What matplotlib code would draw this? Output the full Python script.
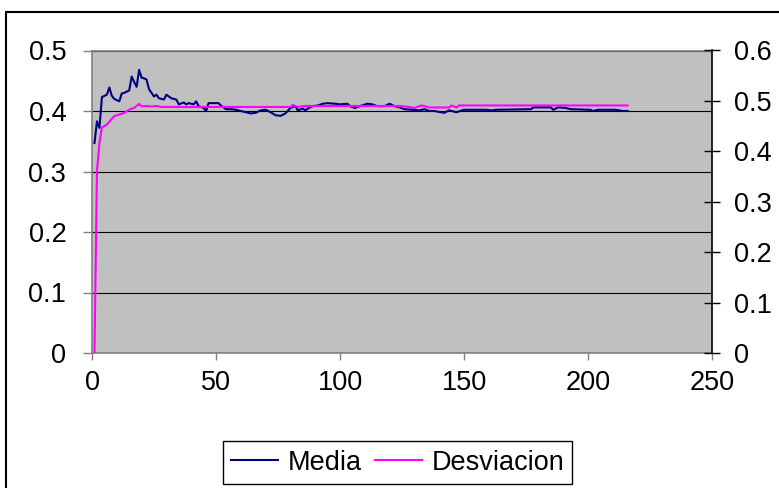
import matplotlib
matplotlib.use('Agg')
import matplotlib.pyplot as plt
import matplotlib.ticker as mticker
from matplotlib.patches import Rectangle
from matplotlib import rcParams

rcParams['font.family'] = 'Liberation Sans'
rcParams['font.size'] = 19.5

media_x = [1, 2, 3, 4, 5, 6, 7, 8, 9, 10, 11, 12, 13, 14, 15, 16, 17, 18, 19, 20,
           21, 22, 23, 24, 25, 26, 27, 29, 30, 32, 34, 35, 37, 38, 39, 41, 42, 43,
           45, 46, 47, 49, 51, 52, 54, 56, 58, 60, 62, 64, 66, 68, 70, 72, 74, 76,
           78, 80, 82, 83, 85, 86, 87, 89, 91, 93, 95, 98, 100, 103, 104, 106, 108,
           111, 113, 115, 118, 120, 122, 124, 126, 129, 132, 134, 136, 138, 142,
           144, 147, 150, 159, 161, 163, 177, 178, 185, 186, 188, 191, 193, 201,
           202, 204, 211, 214, 216]
media_y = [0.347, 0.383, 0.372, 0.423, 0.425, 0.427, 0.439, 0.425, 0.420, 0.418,
           0.416, 0.429, 0.430, 0.432, 0.434, 0.457, 0.448, 0.440, 0.468, 0.455,
           0.454, 0.452, 0.436, 0.430, 0.424, 0.427, 0.421, 0.419, 0.427, 0.421,
           0.419, 0.411, 0.414, 0.411, 0.413, 0.411, 0.416, 0.408, 0.405, 0.400,
           0.413, 0.413, 0.413, 0.409, 0.403, 0.403, 0.402, 0.400, 0.398, 0.396,
           0.397, 0.401, 0.402, 0.398, 0.393, 0.392, 0.396, 0.405, 0.408, 0.401,
           0.404, 0.401, 0.404, 0.408, 0.409, 0.412, 0.413, 0.412, 0.411, 0.412,
           0.408, 0.405, 0.408, 0.412, 0.411, 0.408, 0.408, 0.412, 0.408, 0.406,
           0.403, 0.402, 0.401, 0.403, 0.400, 0.400, 0.397, 0.401, 0.398, 0.402,
           0.402, 0.401, 0.402, 0.403, 0.406, 0.406, 0.402, 0.406, 0.405, 0.403,
           0.402, 0.400, 0.402, 0.402, 0.400, 0.400]

desv_x = [1, 2, 3, 4, 6, 9, 11, 13, 15, 17, 19, 20, 22, 24, 26, 28, 80, 81, 83,
          86, 124, 128, 130, 133, 136, 144, 145, 147, 148, 150, 216]
desv_y = [0.0, 0.36, 0.417, 0.447, 0.453, 0.470, 0.473, 0.476, 0.483, 0.486,
          0.494, 0.489, 0.490, 0.489, 0.490, 0.488, 0.488, 0.492, 0.488, 0.490,
          0.490, 0.488, 0.486, 0.491, 0.487, 0.487, 0.491, 0.487, 0.491, 0.491,
          0.491]

fig = plt.figure(figsize=(7.79, 4.88), dpi=100)
W, H = 779.0, 488.0

# outer chart frame (runs off the right and bottom edges)
fig.patches.append(Rectangle((5.5 / W, -0.1), 1.2, (488 - 12.5) / H + 0.1,
                             transform=fig.transFigure, fill=False,
                             edgecolor='black', linewidth=1.5))

ax = fig.add_axes([92 / W, (H - 353) / H, (712 - 92) / W, (353 - 50.5) / H])
ax.set_facecolor('#C0C0C0')
ax.set_xlim(0, 250)
ax.set_ylim(0, 0.5)
ax.set_xticks([0, 50, 100, 150, 200, 250])
ax.set_yticks([0, 0.1, 0.2, 0.3, 0.4, 0.5])
ax.yaxis.set_major_formatter(mticker.FormatStrFormatter('%g'))
ax.grid(axis='y', color='black', linewidth=0.8)
ax.set_axisbelow(True)
for s in ['left', 'bottom', 'top']:
    ax.spines[s].set_color('#808080')
    ax.spines[s].set_linewidth(1.2)
ax.spines['right'].set_visible(False)
ax.tick_params(axis='y', direction='out', length=6.5, width=1, color='#808080', pad=12)
ax.tick_params(axis='x', direction='out', length=5, width=1, color='#808080', pad=7)

l1, = ax.plot(media_x, media_y, color='#000080', linewidth=1.5, label='Media')

ax2 = ax.twinx()
ax2.set_ylim(0, 0.6)
ax2.set_yticks([0, 0.1, 0.2, 0.3, 0.4, 0.5, 0.6])
ax2.yaxis.set_major_formatter(mticker.FormatStrFormatter('%g'))
for s in ['left', 'bottom', 'top']:
    ax2.spines[s].set_visible(False)
ax2.spines['right'].set_color('black')
ax2.spines['right'].set_linewidth(1.2)
ax2.tick_params(axis='y', direction='inout', length=12, width=1, color='black', pad=10)

l2, = ax2.plot(desv_x, desv_y, color='#FF00FF', linewidth=1.5, label='Desviacion')

leg = fig.legend(handles=[l1, l2], loc='center', ncol=2,
                 bbox_to_anchor=(397.5 / W, 25.5 / H), frameon=True,
                 fancybox=False, edgecolor='black', framealpha=1,
                 handlelength=1.75, handletextpad=0.33, columnspacing=0.5,
                 borderpad=0.3, borderaxespad=0, fontsize=19.5)
leg.get_frame().set_linewidth(1.0)

fig.savefig('out.png', dpi=100)
